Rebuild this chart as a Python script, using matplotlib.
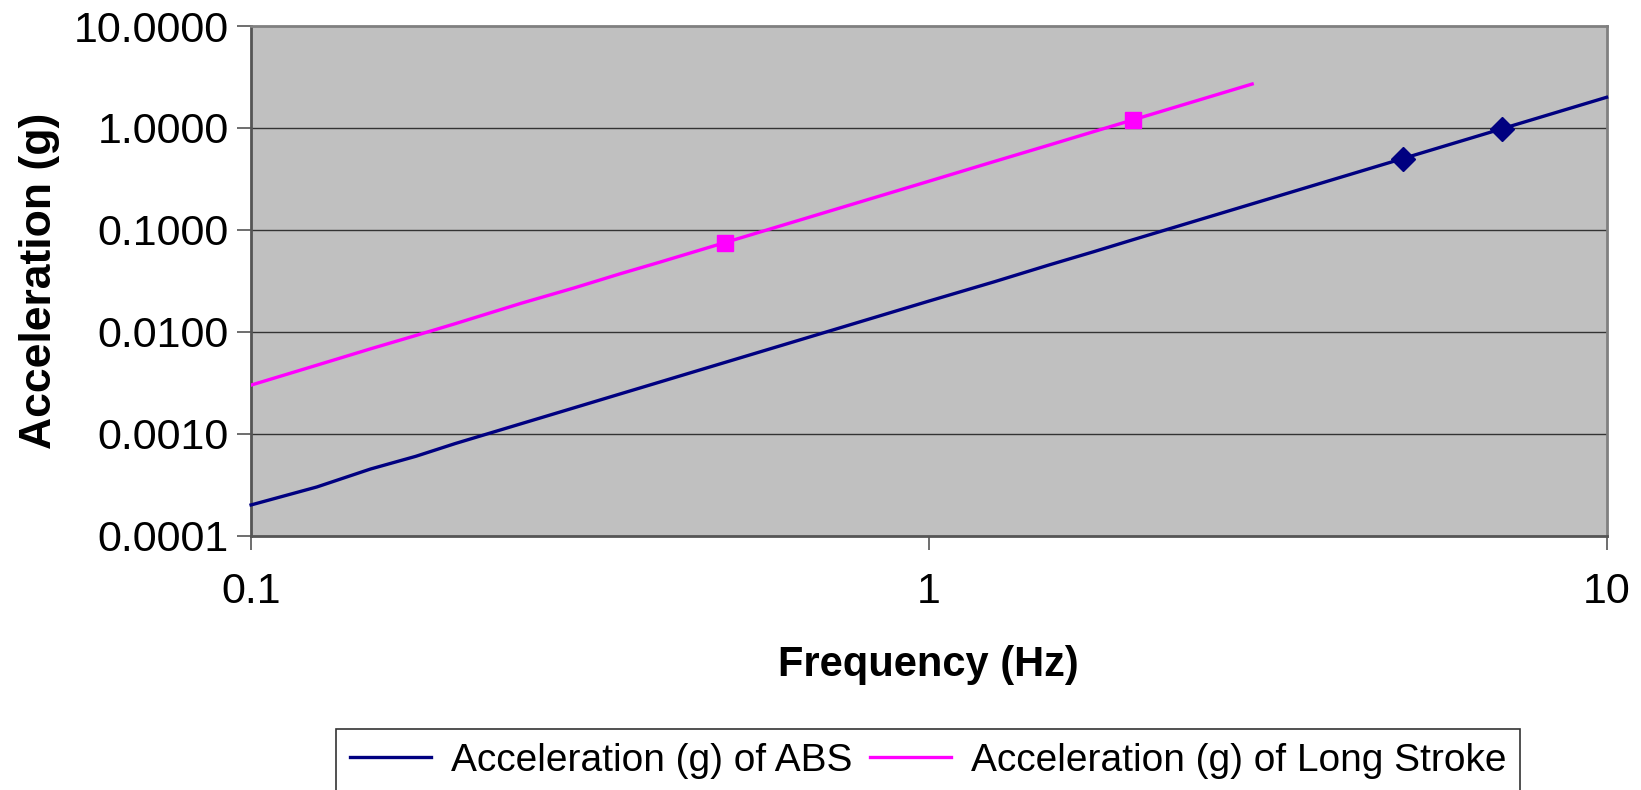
import matplotlib
matplotlib.use("Agg")
import matplotlib.pyplot as plt
from matplotlib.lines import Line2D
from matplotlib.ticker import FixedLocator, FixedFormatter, NullLocator

# data
freq_abs = [0.1, 0.125, 0.15, 0.175, 0.2, 0.25, 0.3, 0.35, 0.4, 0.5, 0.6, 0.7,
            0.8, 0.9, 1.0, 1.25, 1.5, 1.75, 2.0, 2.5, 3.0, 3.5, 4.0, 5.0, 6.0,
            7.0, 8.0, 9.0, 10.0]
acc_abs = [0.0002, 0.0003, 0.00045, 0.0006, 0.0008, 0.00125, 0.0018, 0.00245,
           0.0032, 0.005, 0.0072, 0.0098, 0.0128, 0.0162, 0.02, 0.031, 0.045,
           0.061, 0.08, 0.125, 0.18, 0.245, 0.32, 0.5, 0.72, 0.98, 1.28, 1.62, 2.0]
abs_marks = [23, 25]  # 5 Hz and 7 Hz

freq_ls = [0.1, 0.125, 0.15, 0.175, 0.2, 0.25, 0.3, 0.35, 0.4, 0.5, 0.6, 0.7,
           0.8, 0.9, 1.0, 1.25, 1.5, 1.75, 2.0, 2.5, 3.0]
acc_ls = [0.003, 0.0047, 0.0068, 0.0092, 0.012, 0.019, 0.027, 0.037, 0.048,
          0.075, 0.108, 0.147, 0.192, 0.243, 0.3, 0.47, 0.675, 0.92, 1.2,
          1.875, 2.7]
ls_marks = [9, 18]  # 0.5 Hz and 2 Hz

yticks = [0.0001, 0.001, 0.01, 0.1, 1, 10]
ytick_labels = ["0.0001", "0.0010", "0.0100", "0.1000", "1.0000", "10.0000"]
xticks = [0.1, 1, 10]
xtick_labels = ["0.1", "1", "10"]

navy = "#000080"
magenta = "#FF00FF"

plt.rcParams['font.family'] = ['Liberation Sans', 'DejaVu Sans']

fig = plt.figure(figsize=(16.41, 7.90), dpi=100)
ax = fig.add_axes([0.153, 0.322, 0.826, 0.645])
ax.set_facecolor("#C0C0C0")

ax.set_xscale("log")
ax.set_yscale("log")
ax.set_xlim(0.1, 10)
ax.set_ylim(0.0001, 10)

for y in yticks[1:-1]:
    ax.axhline(y, color="#333333", lw=1.0, zorder=1)

ax.plot(freq_abs, acc_abs, color=navy, lw=2.4, marker="D", ms=12,
        markevery=abs_marks, zorder=3, clip_on=False)
ax.plot(freq_ls, acc_ls, color=magenta, lw=2.4, marker="s", ms=12,
        markevery=ls_marks, zorder=3)

ax.xaxis.set_major_locator(FixedLocator(xticks))
ax.xaxis.set_major_formatter(FixedFormatter(xtick_labels))
ax.xaxis.set_minor_locator(NullLocator())
ax.yaxis.set_major_locator(FixedLocator(yticks))
ax.yaxis.set_major_formatter(FixedFormatter(ytick_labels))
ax.yaxis.set_minor_locator(NullLocator())
ax.tick_params(axis="both", labelsize=31, length=10, width=1.2, color="#555555")
ax.tick_params(axis="x", pad=16)
ax.tick_params(axis="y", pad=6)

for s in ax.spines.values():
    s.set_color("#808080")
    s.set_linewidth(2)
ax.spines["bottom"].set_color("#555555")
ax.spines["left"].set_color("#555555")

ax.set_xlabel("Frequency (Hz)", fontsize=30, fontweight="bold", labelpad=24)
ax.set_ylabel("Acceleration (g)", fontsize=32, fontweight="bold", labelpad=10)

handles = [Line2D([], [], color=navy, lw=2.4),
           Line2D([], [], color=magenta, lw=2.4)]
leg = fig.legend(handles, ["Acceleration (g) of ABS", "Acceleration (g) of Long Stroke"],
                 ncol=2, loc="upper center", bbox_to_anchor=(0.5655, 0.077),
                 frameon=True, fancybox=False, edgecolor="black",
                 prop={"size": 28},
                 handlelength=2.1, handletextpad=0.5, columnspacing=0.45,
                 borderpad=0.35, borderaxespad=0)
leg.get_frame().set_linewidth(1.2)

fig.savefig("out.png", dpi=100)
